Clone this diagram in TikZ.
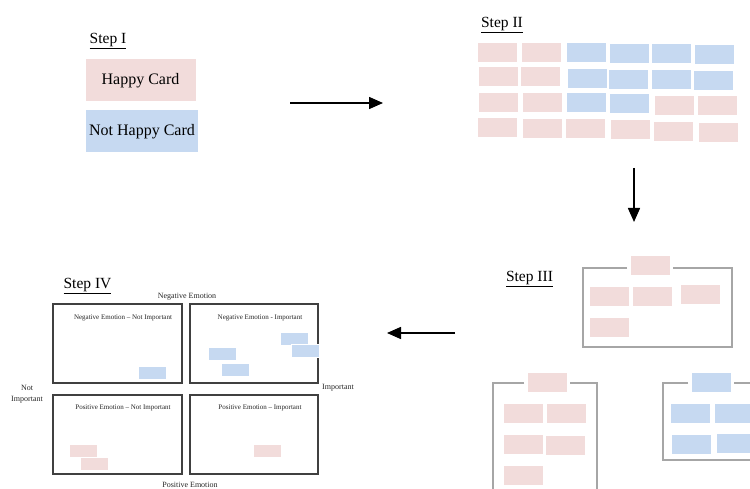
\documentclass[tikz,border=0pt]{standalone}
\usepackage{fontspec}
\setmainfont{Liberation Serif}
\usetikzlibrary{arrows.meta}
\definecolor{pinkc}{HTML}{F2DCDB}
\definecolor{bluec}{HTML}{C6D9F1}
\definecolor{framegray}{HTML}{A6A6A6}
\definecolor{quadgray}{HTML}{404040}
\tikzset{
  card/.style={draw=white, line width=0.8pt, minimum width=40pt, minimum height=20pt, inner sep=0pt},
  pcard/.style={card, fill=pinkc},
  bcard/.style={card, fill=bluec},
  scard/.style={draw=white, line width=0.6pt, minimum width=28pt, minimum height=13pt, inner sep=0pt},
  spcard/.style={scard, fill=pinkc},
  sbcard/.style={scard, fill=bluec},
  steplabel/.style={font=\fontsize{15.5}{18}\selectfont, inner sep=0pt},
  grpframe/.style={draw=framegray, line width=1.6pt},
  quad/.style={draw=quadgray, line width=1.3pt},
  qlabel/.style={font=\fontsize{7}{8}\selectfont, text=black!85, inner sep=0pt},
  axlabel/.style={font=\fontsize{8}{9.5}\selectfont, text=black!85, inner sep=0pt, align=center},
  flow/.style={line width=1.5pt, -{Triangle[length=14pt,width=12pt]}}
}
\begin{document}
\begin{tikzpicture}[x=1pt,y=-1pt]
\useasboundingbox (0,0) rectangle (750,489);
\fill[white] (0,0) rectangle (750,489);

% Step I
\node[steplabel] (s1) at (108,41) {\underline{Step I}};
\node[fill=pinkc, draw=white, line width=1pt, minimum width=111pt, minimum height=43pt, font=\fontsize{16}{19}\selectfont] (happy) at (140.5,80.5) {Happy Card};
\node[fill=bluec, draw=white, line width=1pt, minimum width=110pt, minimum height=43pt, font=\fontsize{16}{19}\selectfont] (nothappy) at (142,131.5) {Not Happy Card};

% Arrow I -> II
\coordinate (a1s) at (290,103);
\coordinate (a1e) at (383,103);
\draw[flow] (a1s) -- (a1e);

% Step II
\node[steplabel] (s2) at (502,25) {\underline{Step II}};
\node[pcard] (r1c1) at (497,52) {};
\node[pcard] (r1c2) at (541.5,52) {};
\node[bcard] (r1c3) at (586.5,52) {};
\node[bcard] (r1c4) at (629.5,53) {};
\node[bcard] (r1c5) at (671,53) {};
\node[bcard] (r1c6) at (714.5,54) {};
\node[pcard] (r2c1) at (498,76) {};
\node[pcard] (r2c2) at (540.5,76) {};
\node[bcard] (r2c3) at (587,78) {};
\node[bcard] (r2c4) at (628.5,79) {};
\node[bcard] (r2c5) at (671.5,79) {};
\node[bcard] (r2c6) at (713.5,80) {};
\node[pcard] (r3c1) at (498,102) {};
\node[pcard] (r3c2) at (542,102) {};
\node[bcard] (r3c3) at (586.5,102) {};
\node[bcard] (r3c4) at (629.5,103) {};
\node[pcard] (r3c5) at (674.5,105) {};
\node[pcard] (r3c6) at (717.5,105) {};
\node[pcard] (r4c1) at (497,127) {};
\node[pcard] (r4c2) at (542.5,128) {};
\node[pcard] (r4c3) at (585.5,128) {};
\node[pcard] (r4c4) at (630.5,129) {};
\node[pcard] (r4c5) at (673.5,131) {};
\node[pcard] (r4c6) at (718,132) {};

% Arrow II -> III
\coordinate (a2s) at (634,168);
\coordinate (a2e) at (634,222);
\draw[flow] (a2s) -- (a2e);

% Step III
\node[steplabel] (s3) at (529.5,279.5) {\underline{Step III}};
% group A
\draw[grpframe] (627,268) -- (583,268) -- (583,347) -- (732,347) -- (732,268) -- (673,268);
\node[pcard] (ga0) at (650,265) {};
\node[pcard] (ga1) at (609.5,296) {};
\node[pcard] (ga2) at (652.5,296) {};
\node[pcard] (ga3) at (700.5,294) {};
\node[pcard] (ga4) at (609.5,327) {};
% group B
\draw[grpframe] (524,383) -- (493,383) -- (493,495);
\draw[grpframe] (570,383) -- (597,383) -- (597,495);
\node[pcard] (gb0) at (547,382) {};
\node[pcard] (gb1) at (523,413) {};
\node[pcard] (gb2) at (566.5,413) {};
\node[pcard] (gb3) at (523.5,444) {};
\node[pcard] (gb4) at (565.5,445) {};
\node[pcard] (gb5) at (523.5,475) {};
% group C
\draw[grpframe] (688,383) -- (663,383) -- (663,460) -- (760,460);
\draw[grpframe] (734,383) -- (760,383);
\node[bcard] (gc0) at (711,382) {};
\node[bcard] (gc1) at (690.5,413) {};
\node[bcard] (gc2) at (734,413) {};
\node[bcard] (gc3) at (691.5,444) {};
\node[bcard] (gc4) at (736,443) {};

% Arrow III -> IV
\coordinate (a3s) at (455,333);
\coordinate (a3e) at (387,333);
\draw[flow] (a3s) -- (a3e);

% Step IV
\node[steplabel] (s4) at (87.5,286) {\underline{Step IV}};
\node[axlabel] (negE) at (187,296.5) {Negative Emotion};
\node[axlabel] (posE) at (190,485) {Positive Emotion};
\node[axlabel] (notimp) at (27,394) {Not\\[1pt]Important};
\node[axlabel] (imp) at (338,388) {Important};

\node[quad, minimum width=129pt, minimum height=79pt] (q1) at (117.5,343.5) {};
\node[quad, minimum width=128pt, minimum height=79pt] (q2) at (254,343.5) {};
\node[quad, minimum width=129pt, minimum height=79pt] (q3) at (117.5,434.5) {};
\node[quad, minimum width=128pt, minimum height=79pt] (q4) at (254,434.5) {};

\node[qlabel] (q1t) at (123,317.5) {Negative Emotion – Not Important};
\node[qlabel] (q2t) at (260,317.5) {Negative Emotion - Important};
\node[qlabel] (q3t) at (123,407.5) {Positive Emotion – Not Important};
\node[qlabel] (q4t) at (260,407.5) {Positive Emotion – Important};

\node[sbcard] (d1) at (152.5,372.5) {};
\node[sbcard] (d2) at (294,338.5) {};
\node[sbcard] (d3) at (305,351) {};
\node[sbcard] (d4) at (222.5,354) {};
\node[sbcard] (d5) at (235,370) {};
\node[spcard] (d6) at (83,450.5) {};
\node[spcard] (d7) at (94,463.5) {};
\node[spcard] (d8) at (267,450.5) {};
\end{tikzpicture}
\end{document}
